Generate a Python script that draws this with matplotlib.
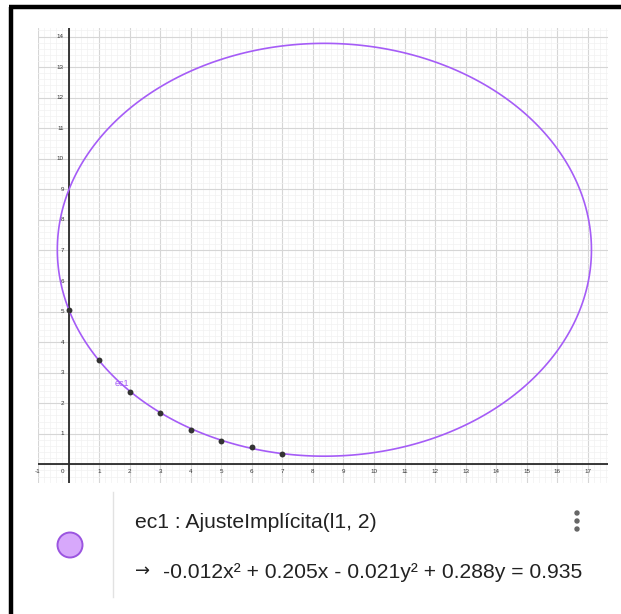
import numpy as np
import matplotlib
matplotlib.use("Agg")
import matplotlib.pyplot as plt
from matplotlib.patches import Circle
from matplotlib.ticker import MultipleLocator

# points of list l1
x_pts = [0, 1, 2, 3, 4, 5, 6, 7]
y_pts = [5.06, 3.40, 2.36, 1.68, 1.14, 0.78, 0.56, 0.34]

# implicit fit: -a x^2 + d x - c y^2 + e y = f
a, d, c, e, f = 0.01225, 0.2052, 0.02052, 0.2882, 0.9350

x_ticks = list(range(-1, 18))
y_ticks = list(range(1, 15))

curve_color = "#a55cf7"
plt.rcParams["font.family"] = ["Liberation Sans", "DejaVu Sans"]

fig = plt.figure(figsize=(6.21, 6.14), dpi=100)

# graphics view
W, H = 621, 614
left, right, top, bottom = 38, 608, 28, 483
ax = fig.add_axes([left / W, 1 - bottom / H, (right - left) / W, (bottom - top) / H])
ax.set_xlim(-1.0, 17.66)
ax.set_ylim(-0.61, 14.28)
for s in ax.spines.values():
    s.set_visible(False)
ax.xaxis.set_major_locator(MultipleLocator(1))
ax.yaxis.set_major_locator(MultipleLocator(1))
ax.xaxis.set_minor_locator(MultipleLocator(0.2))
ax.yaxis.set_minor_locator(MultipleLocator(0.2))
ax.grid(which="major", color="#d6d6d6", lw=0.8)
ax.grid(which="minor", color="#f1f1f1", lw=0.5)
ax.tick_params(which="both", length=0, labelbottom=False, labelleft=False)
ax.set_axisbelow(True)

ax.axhline(0, color="#2a2a2a", lw=1.3, zorder=2)
ax.axvline(0, color="#2a2a2a", lw=1.3, zorder=2)

for v in x_ticks:
    if v == 0:
        ax.text(-0.15, -0.25, "0", fontsize=4.5, color="#333333", ha="right", va="center")
    else:
        ax.text(v, -0.25, str(v), fontsize=4.5, color="#333333", ha="center", va="center")
for v in y_ticks:
    ax.text(-0.15, v, str(v), fontsize=4.5, color="#333333", ha="right", va="center")

gx = np.linspace(-1.0, 17.66, 800)
gy = np.linspace(-0.61, 14.28, 800)
X, Y = np.meshgrid(gx, gy)
Z = -a * X**2 + d * X - c * Y**2 + e * Y - f
ax.contour(X, Y, Z, levels=[0], colors=curve_color, linewidths=1.2, zorder=3)

ax.scatter(x_pts, y_pts, s=18, color="#333333", zorder=4, linewidths=0)
ax.text(1.75, 2.63, "ec1", fontsize=6.5, color=curve_color, ha="center", va="center")

# algebra view and frame, in pixel coordinates
pan = fig.add_axes([0, 0, 1, 1], zorder=-1)
pan.set_xlim(0, W)
pan.set_ylim(H, 0)
pan.axis("off")
pan.plot([10.5, 10.5], [6.5, H], color="black", lw=3.2, solid_capstyle="butt")
pan.plot([9, W], [7, 7], color="black", lw=3.2, solid_capstyle="butt")
pan.plot([113, 113], [492, 597], color="#e2e2e2", lw=1.0)
pan.add_patch(Circle((70, 545), 12.5, facecolor="#d7a8fb", edgecolor="#9b55e0", lw=1.4))
for yy in (513, 521, 529):
    pan.add_patch(Circle((577, yy), 2.0, color="#666666"))

pan.text(135, 523, "ec1 : AjusteImplícita(l1, 2)", fontsize=15.2, color="#222222",
         ha="left", va="center")
pan.text(135, 571, "\u2192", fontsize=13, color="#222222", ha="left", va="center",
         family="DejaVu Sans")
eq = f"{-a:.3f}x\u00b2 + {d:.3f}x - {c:.3f}y\u00b2 + {e:.3f}y = {f:.3f}"
pan.text(163, 572, eq, fontsize=15.2, color="#222222", ha="left", va="center")

fig.savefig("out.png", dpi=100)
